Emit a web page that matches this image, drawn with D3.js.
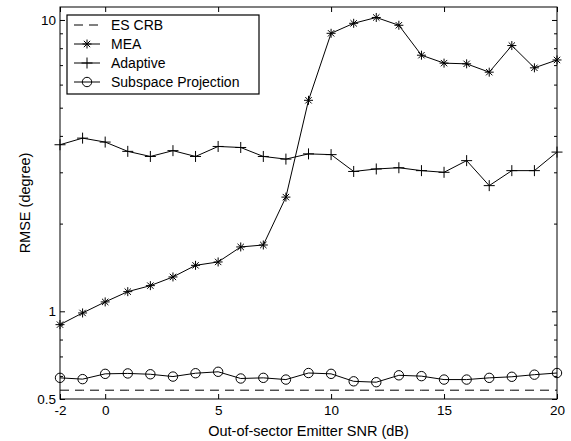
<!DOCTYPE html>
<html>
<head>
<meta charset="utf-8">
<script src="https://cdn.jsdelivr.net/npm/d3@7"></script>
<style>
  body { margin: 0; background: #fff; }
  text { font-family: Arial, "Liberation Sans", sans-serif; fill: #000; }
</style>
</head>
<body>
<svg class="chart" width="571" height="441"></svg>
<script>
// SNR values in dB
const snr = d3.range(-2, 21);

const crbValues = snr.map(() => 0.536);

const meaValues = [0.90, 0.987, 1.077, 1.168, 1.225, 1.312, 1.438, 1.477, 1.663, 1.689,
  2.466, 5.30, 9.00, 9.74, 10.2, 9.59, 7.57, 7.11, 7.07, 6.62, 8.17, 6.85, 7.29];

const adaptiveValues = [3.73, 3.93, 3.81, 3.54, 3.40, 3.56, 3.40, 3.68, 3.65, 3.40,
  3.33, 3.47, 3.45, 3.02, 3.08, 3.11, 3.04, 3.00, 3.29, 2.70, 3.04, 3.04, 3.52];

const subspaceValues = [0.591, 0.585, 0.610, 0.612, 0.608, 0.597, 0.613, 0.620, 0.588, 0.591,
  0.583, 0.614, 0.610, 0.575, 0.571, 0.603, 0.599, 0.583, 0.583, 0.591, 0.596, 0.606, 0.614];

const xTicks = [-2, 0, 5, 10, 15, 20];
const yLabelTicks = [0.5, 1, 10];
const yMinorTicks = [0.6, 0.7, 0.8, 0.9, 2, 3, 4, 5, 6, 7, 8, 9];

const seriesNames = ["ES CRB", "MEA", "Adaptive", "Subspace Projection"];

const svg = d3.select("svg.chart");

const pLeft = 60, pRight = 557, pTop = 7, pBottom = 399;

const x = d3.scaleLinear().domain([-2, 20]).range([pLeft, pRight]);
const y = d3.scaleLog().domain([0.5, 11.08]).range([pBottom, pTop]);

// frame
svg.append("rect")
  .attr("x", pLeft).attr("y", pTop)
  .attr("width", pRight - pLeft).attr("height", pBottom - pTop)
  .attr("fill", "none").attr("stroke", "#000").attr("stroke-width", 1);

// axes with inward ticks (MATLAB style), plain hyphen for negatives
const fmt = d => String(d);
const g = svg.append("g");
g.append("g")
  .attr("transform", `translate(0,${pBottom})`)
  .call(d3.axisBottom(x).tickValues(xTicks).tickSizeInner(-5).tickSizeOuter(0).tickPadding(6).tickFormat(fmt))
  .call(a => a.select(".domain").remove());
g.append("g")
  .attr("transform", `translate(0,${pTop})`)
  .call(d3.axisTop(x).tickValues(xTicks).tickSizeInner(-5).tickSizeOuter(0).tickFormat(""))
  .call(a => a.select(".domain").remove());
g.append("g")
  .attr("transform", `translate(${pLeft},0)`)
  .call(d3.axisLeft(y).tickValues(yLabelTicks).tickSizeInner(-5).tickSizeOuter(0).tickPadding(4).tickFormat(fmt))
  .call(a => a.select(".domain").remove());
g.append("g")
  .attr("transform", `translate(${pLeft},0)`)
  .call(d3.axisLeft(y).tickValues(yMinorTicks).tickSizeInner(-3).tickSizeOuter(0).tickFormat(""))
  .call(a => a.select(".domain").remove());
g.append("g")
  .attr("transform", `translate(${pRight},0)`)
  .call(d3.axisRight(y).tickValues(yLabelTicks).tickSizeInner(-5).tickSizeOuter(0).tickFormat(""))
  .call(a => a.select(".domain").remove());
g.append("g")
  .attr("transform", `translate(${pRight},0)`)
  .call(d3.axisRight(y).tickValues(yMinorTicks).tickSizeInner(-3).tickSizeOuter(0).tickFormat(""))
  .call(a => a.select(".domain").remove());
g.selectAll(".tick text")
  .style("font-size", "13.5px")
  .style("font-family", "Arial, 'Liberation Sans', sans-serif");
g.selectAll(".tick line").attr("stroke", "#000");

// axis titles
svg.append("text")
  .attr("x", (pLeft + pRight) / 2).attr("y", 436)
  .attr("text-anchor", "middle")
  .style("font-size", "14.5px")
  .text("Out-of-sector Emitter SNR (dB)");
svg.append("text")
  .attr("transform", `translate(30,${(pTop + pBottom) / 2}) rotate(-90)`)
  .attr("text-anchor", "middle")
  .style("font-size", "14.5px")
  .text("RMSE (degree)");

const line = d3.line()
  .x((d, i) => x(snr[i]))
  .y(d => y(d));

// marker drawing helpers
function star(sel, r) {
  const p = [];
  for (let k = 0; k < 4; k++) {
    const a = k * Math.PI / 4;
    p.push(`M${-r * Math.cos(a)},${-r * Math.sin(a)}L${r * Math.cos(a)},${r * Math.sin(a)}`);
  }
  sel.append("path").attr("d", p.join("")).attr("stroke", "#000").attr("stroke-width", 1).attr("fill", "none");
}
function plus(sel, r) {
  sel.append("path").attr("d", `M${-r},0L${r},0M0,${-r}L0,${r}`)
    .attr("stroke", "#000").attr("stroke-width", 1).attr("fill", "none");
}
function circle(sel, r) {
  sel.append("circle").attr("r", r).attr("fill", "none").attr("stroke", "#000").attr("stroke-width", 1);
}

const plot = svg.append("g");

// ES CRB dashed
plot.append("path")
  .datum(crbValues)
  .attr("d", line)
  .attr("fill", "none").attr("stroke", "#000").attr("stroke-width", 1)
  .attr("stroke-dasharray", "9,6");

const series = [
  { values: meaValues, marker: star, r: 4.5 },
  { values: adaptiveValues, marker: plus, r: 5.5 },
  { values: subspaceValues, marker: circle, r: 4.7 }
];

series.forEach(s => {
  plot.append("path")
    .datum(s.values)
    .attr("d", line)
    .attr("fill", "none").attr("stroke", "#000").attr("stroke-width", 1);
  plot.selectAll(null)
    .data(s.values)
    .enter()
    .append("g")
    .attr("transform", (d, i) => `translate(${x(snr[i])},${y(d)})`)
    .each(function () { s.marker(d3.select(this), s.r); });
});

// legend
const legend = svg.append("g");
legend.append("rect")
  .attr("x", 67).attr("y", 15).attr("width", 192).attr("height", 79)
  .attr("fill", "#fff").attr("stroke", "#000").attr("stroke-width", 1.2);

const markers = [null, star, plus, circle];
const radii = [0, 4.5, 5.5, 4.7];
seriesNames.forEach((name, i) => {
  const ly = 25 + i * 19;
  legend.append("line")
    .attr("x1", 74).attr("x2", 100).attr("y1", ly).attr("y2", ly)
    .attr("stroke", "#000").attr("stroke-width", 1)
    .attr("stroke-dasharray", i === 0 ? "9,6" : null);
  if (markers[i]) {
    const m = legend.append("g").attr("transform", `translate(87,${ly})`);
    markers[i](m, radii[i]);
  }
  legend.append("text")
    .attr("x", 111).attr("y", ly + 5)
    .style("font-size", "14px")
    .text(name);
});
</script>
</body>
</html>
